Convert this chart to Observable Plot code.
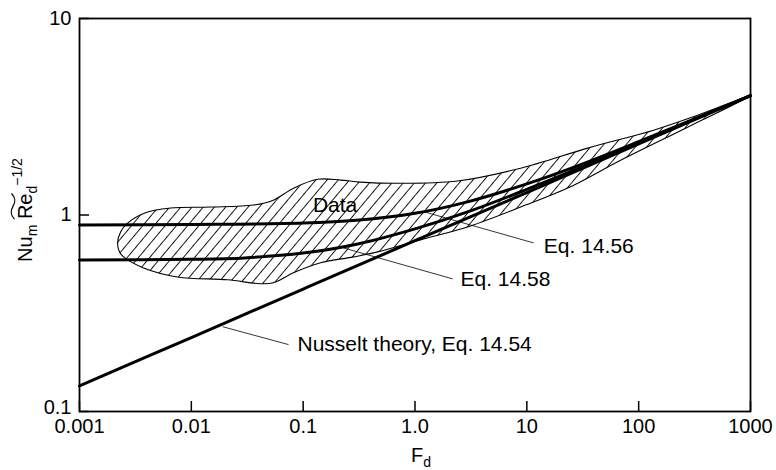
<!DOCTYPE html>
<html><head><meta charset="utf-8">
<script src="https://cdn.jsdelivr.net/npm/d3@7"></script>
<script src="https://cdn.jsdelivr.net/npm/@observablehq/plot@0.6"></script>
<style>
html,body{margin:0;padding:0;background:#fff;}
#chart{width:776px;height:470px;}
</style>
</head><body><div id="chart"></div>
<script>
// Axis ticks and labels
const xTicks = [0.001, 0.01, 0.1, 1, 10, 100, 1000];
const xTickLabels = ["0.001", "0.01", "0.1", "1.0", "10", "100", "1000"];
const yTicks = [0.1, 1, 10];
const yTickLabels = ["0.1", "1", "10"];

// Eq. 14.56
const eq1456F = [0.001, 0.01, 0.1, 0.3, 1, 3, 10, 30, 100, 300, 1000];
const eq1456Y = [0.89, 0.895, 0.91, 0.94, 1.02, 1.17, 1.44, 1.80, 2.36, 3.05, 4.05];
// Eq. 14.58
const eq1458F = [0.001, 0.01, 0.03, 0.1, 0.3, 1, 3, 10, 30, 100, 300, 1000];
const eq1458Y = [0.59, 0.595, 0.605, 0.64, 0.71, 0.85, 1.04, 1.35, 1.74, 2.32, 3.03, 4.05];
// Nusselt theory, Eq. 14.54
const nusseltF = [0.001, 0.01, 0.1, 1, 10, 100, 1000];
const nusseltY = [0.135, 0.238, 0.42, 0.74, 1.30, 2.30, 4.05];

// Data envelope (hatched)
const dataUpperF = [0.00219, 0.00233, 0.00269, 0.00406, 0.00652, 0.0149, 0.036, 0.054, 0.082, 0.135, 0.216, 0.326, 0.70, 2.4, 8.8, 35, 136, 337, 1000];
const dataUpperY = [0.72, 0.82, 0.91, 1.036, 1.085, 1.098, 1.124, 1.19, 1.37, 1.52, 1.505, 1.47, 1.45, 1.49, 1.73, 2.19, 2.70, 3.22, 4.05];
const dataLowerF = [0.00228, 0.00248, 0.00374, 0.00753, 0.0211, 0.0416, 0.0543, 0.082, 0.143, 0.2825, 0.463, 1.12, 3.14, 8.81, 23.2, 69, 274];
const dataLowerY = [0.649, 0.612, 0.538, 0.484, 0.468, 0.447, 0.452, 0.508, 0.571, 0.612, 0.649, 0.747, 0.88, 1.098, 1.371, 1.90, 2.80];

// Annotations
const labelText = ["Data", "Eq. 14.56", "Eq. 14.58", "Nusselt theory, Eq. 14.54"];
const labelF = [0.193, 14.2, 2.55, 0.089];
const labelY = [1.124, 0.696, 0.473, 0.221];
const labelAnchor = ["middle", "start", "start", "start"];
// Leader lines: from point on curve to label
const leaderF1 = [1.19, 0.229, 0.0191];
const leaderY1 = [1.04, 0.68, 0.27];
const leaderF2 = [11.5, 2.17, 0.074];
const leaderY2 = [0.721, 0.473, 0.219];

const toPts = (F, Y) => F.map((f, i) => ({x: f, y: Y[i]}));
const envelope = toPts(dataUpperF, dataUpperY).concat(toPts(dataLowerF, dataLowerY).reverse());
const curves = [
  ...toPts(eq1456F, eq1456Y).map(d => ({...d, k: "Eq. 14.56"})),
  ...toPts(eq1458F, eq1458Y).map(d => ({...d, k: "Eq. 14.58"})),
  ...toPts(nusseltF, nusseltY).map(d => ({...d, k: "Nusselt"}))
];
const labels = labelText.map((t, i) => ({t, x: labelF[i], y: labelY[i], a: labelAnchor[i]}));
const leaders = leaderF1.map((f, i) => ({x1: f, y1: leaderY1[i], x2: leaderF2[i], y2: leaderY2[i]}));
const xFmt = new Map(xTicks.map((t, i) => [t, xTickLabels[i]]));
const yLabels = yTicks.map((t, i) => ({y: t, t: yTickLabels[i]}));

const FONT = "'Liberation Sans', Arial, Helvetica, sans-serif";
const chart = Plot.plot({
  width: 776, height: 470,
  marginLeft: 79, marginRight: 26, marginTop: 18, marginBottom: 59,
  style: {fontFamily: FONT, fontSize: "20px", color: "#000", background: "#fff"},
  x: {type: "log", domain: [0.001, 1000], ticks: xTicks, tickFormat: d => xFmt.get(d), tickSize: 0, tickPadding: 7, label: null},
  y: {type: "log", domain: [0.1, 10], axis: null},
  marks: [
    Plot.line(envelope, {x: "x", y: "y", curve: "catmull-rom-closed", fill: "url(#hatch)", stroke: "#000", strokeWidth: 1.1, clip: true}),
    Plot.line(curves, {x: "x", y: "y", z: "k", curve: "catmull-rom", stroke: "#000", strokeWidth: 3}),
    Plot.link(leaders, {x1: "x1", y1: "y1", x2: "x2", y2: "y2", stroke: "#000", strokeWidth: 0.8}),
    Plot.text(labels.filter(d => d.a === "middle"), {x: "x", y: "y", text: "t", textAnchor: "middle", fontSize: 21, fill: "#000"}),
    Plot.text(labels.filter(d => d.a === "start"), {x: "x", y: "y", text: "t", textAnchor: "start", fontSize: 21, fill: "#000"}),
    // y tick labels (0.1 nudged up slightly as in the reference)
    Plot.text(yLabels.filter(d => d.y !== 0.1), {y: "y", text: "t", frameAnchor: "left", textAnchor: "end", dx: -8, fontSize: 20, fill: "#000"}),
    Plot.text(yLabels.filter(d => d.y === 0.1), {y: "y", text: "t", frameAnchor: "left", textAnchor: "end", dx: -8, dy: -4, fontSize: 20, fill: "#000"}),
    Plot.ruleX(xTicks, {x: d => d, y1: 0.1, y2: 0.1, insetTop: -10, stroke: "#000", strokeWidth: 1.5}),
    Plot.ruleY(yTicks, {y: d => d, x1: 0.001, x2: 0.001, insetRight: -10, stroke: "#000", strokeWidth: 1.5}),
    Plot.frame({stroke: "#000", strokeWidth: 1.8})
  ]
});
document.getElementById("chart").appendChild(chart);

const svg = d3.select(chart);
svg.insert("defs", ":first-child").html(
  '<pattern id="hatch" patternUnits="userSpaceOnUse" width="8.6" height="8.6" patternTransform="rotate(-50)">' +
  '<line x1="-1" y1="4.3" x2="9.6" y2="4.3" stroke="#000" stroke-width="0.9"/></pattern>');

// x axis label F_d
const xl = svg.append("text").attr("x", 421).attr("y", 462).attr("text-anchor", "middle")
  .style("font-family", FONT).style("font-size", "20px").attr("fill", "#000");
xl.append("tspan").text("F");
xl.append("tspan").attr("dy", 5).style("font-size", "14px").text("d");

// y axis label Nu_m Re~_d^-1/2
const g = svg.append("g").attr("transform", "translate(32,210) rotate(-90)");
const yl = g.append("text").attr("x", 0).attr("y", 0).attr("text-anchor", "middle")
  .style("font-family", FONT).style("font-size", "20px").attr("fill", "#000");
yl.append("tspan").text("Nu");
yl.append("tspan").attr("dy", 5).style("font-size", "14px").text("m");
yl.append("tspan").attr("dy", -5).text(" Re");
yl.append("tspan").attr("dy", 5).style("font-size", "14px").text("d");
yl.append("tspan").attr("dy", -15).style("font-size", "14px").text("\u22121/2");
try {
  const node = yl.node();
  const x0 = node.getStartPositionOfChar(4).x;
  const x1 = node.getEndPositionOfChar(5).x;
  const w = x1 - x0, yy = -19;
  g.append("path").attr("fill", "none").attr("stroke", "#000").attr("stroke-width", 1.3)
    .attr("d", `M${x0},${yy+1.5} C${x0+w*0.15},${yy-2.5} ${x0+w*0.35},${yy-2.5} ${x0+w*0.5},${yy} C${x0+w*0.65},${yy+2.5} ${x0+w*0.85},${yy+2.5} ${x1},${yy-1.5}`);
} catch (e) {}
</script>
</body></html>
